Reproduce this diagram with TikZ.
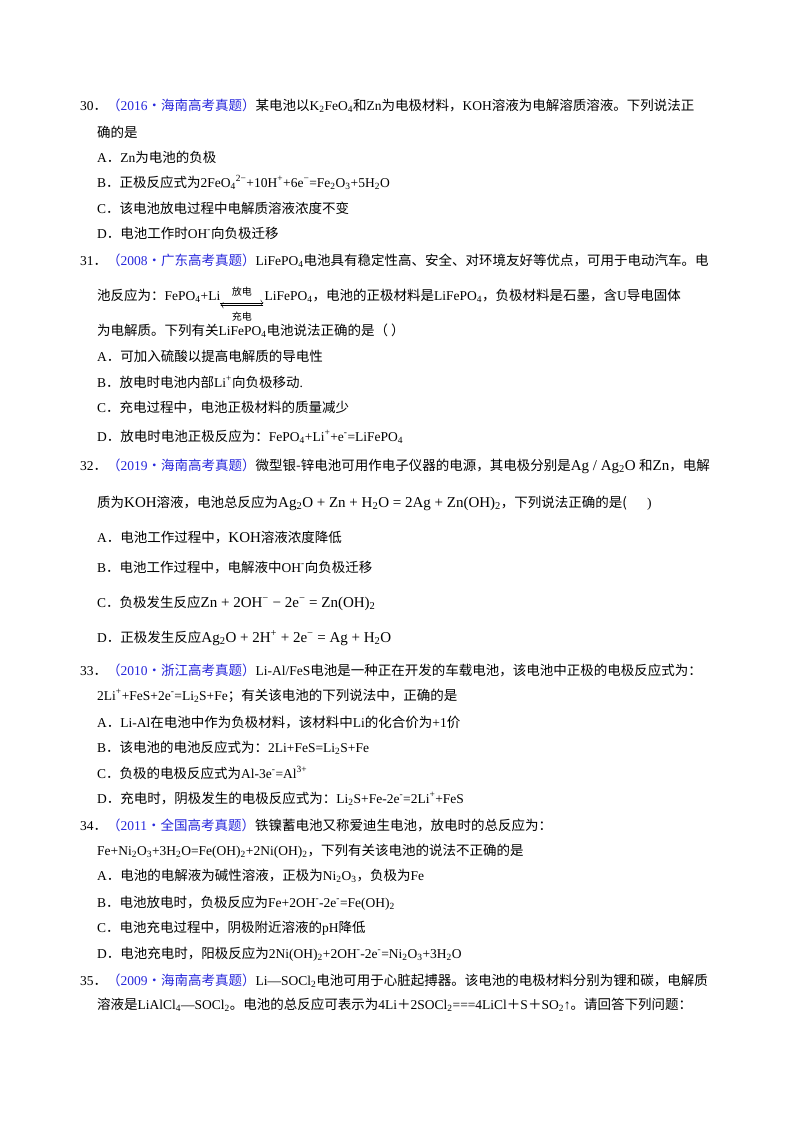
\documentclass[tikz,border=0pt]{standalone}
\usepackage{fontspec}
\usetikzlibrary{arrows.meta,calc}
\setmainfont{Liberation Serif}
\newfontfamily\cjk{Noto Sans CJK SC}
\newcommand\C[1]{{\cjk #1}}
\newcommand\Sb[1]{\textsubscript{#1}}
\newcommand\Sp[1]{\textsuperscript{#1}}
\definecolor{src}{RGB}{40,40,220}
\tikzset{t/.style={inner sep=0pt,anchor=base west,font=\fontsize{13.5}{13.5}\selectfont},
  lab/.style={inner sep=0pt,font=\fontsize{10}{10}\selectfont\cjk}}
\begin{document}
\begin{tikzpicture}[x=1pt,y=-1pt]
\useasboundingbox (0,0) rectangle (800,1132);
\fill[white] (0,0) rectangle (800,1132);
% 30
\node[t] (n30) at (80,110) {30\C{．}\textcolor{src}{\C{（}2016\C{·海南高考真题）}}\C{某电池以}K\Sb{2}FeO\Sb{4}\C{和}Zn\C{为电极材料，}KOH\C{溶液为电解溶质溶液。下列说法正}};
\node[t] (l30b) at (97,137) {\C{确的是}};
\node[t] (a30) at (97,162) {A\C{．}Zn\C{为电池的负极}};
\node[t] (b30) at (97,187) {B\C{．正极反应式为}2FeO\Sb{4}\Sp{2−}+10H\Sp{+}+6e\Sp{−}=Fe\Sb{2}O\Sb{3}+5H\Sb{2}O};
\node[t] (c30) at (97,213) {C\C{．该电池放电过程中电解质溶液浓度不变}};
\node[t] (d30) at (97,238) {D\C{．电池工作时}OH\Sp{-}\C{向负极迁移}};
% 31
\node[t] (n31) at (80,265) {31\C{．}\textcolor{src}{\C{（}2008\C{·广东高考真题）}}LiFePO\Sb{4}\C{电池具有稳定性高、安全、对环境友好等优点，可用于电动汽车。电}};
\node[t] (l31b) at (97,300) {\C{池反应为：}FePO\Sb{4}+Li};
\coordinate (p1) at ([yshift=-4pt]l31b.base east);
\coordinate (p2) at ([xshift=43pt]p1);
\draw[-{To[length=3pt]}] ([yshift=1.2pt]p1) -- ([yshift=1.2pt]p2);
\draw[-{To[length=3pt]}] ([yshift=-1.2pt]p2) -- ([yshift=-1.2pt]p1);
\node[lab,anchor=south] (fd) at ([yshift=7pt]$(p1)!0.5!(p2)$) {放电};
\node[lab,anchor=north] (cd) at ([yshift=-8pt]$(p1)!0.5!(p2)$) {充电};
\node[t] (l31c) at ([xshift=1pt]p2 |- l31b.base) {LiFePO\Sb{4}\C{，电池的正极材料是}LiFePO\Sb{4}\C{，负极材料是石墨，含}U\C{导电固体}};
\node[t] (l31d) at (97,335) {\C{为电解质。下列有关}LiFePO\Sb{4}\C{电池说法正确的是（ ）}};
\node[t] (a31) at (97,361) {A\C{．可加入硫酸以提高电解质的导电性}};
\node[t] (b31) at (97,387) {B\C{．放电时电池内部}Li\Sp{+}\C{向负极移动}.};
\node[t] (c31) at (97,412) {C\C{．充电过程中，电池正极材料的质量减少}};
\node[t] (d31) at (97,441) {D\C{．放电时电池正极反应为：}FePO\Sb{4}+Li\Sp{+}+e\Sp{-}=LiFePO\Sb{4}};
% 32
\node[t] (n32) at (80,470) {32\C{．}\textcolor{src}{\C{（}2019\C{·海南高考真题）}}\C{微型银-锌电池可用作电子仪器的电源，其电极分别是}{\fontsize{15}{15}\selectfont Ag / Ag\Sb{2}O} \C{和}{\fontsize{15}{15}\selectfont Zn}\C{，电解}};
\node[t,font=\fontsize{13.5}{13.5}\selectfont] (l32b) at (97,507) {\C{质为}{\fontsize{15}{15}\selectfont KOH}\C{溶液，电池总反应为}{\fontsize{15}{15}\selectfont Ag\Sb{2}O + Zn + H\Sb{2}O = 2Ag + Zn(OH)\Sb{2}}\C{，下列说法正确的是(}\quad\ \ )};
\node[t] (a32) at (97,542) {A\C{．电池工作过程中，}{\fontsize{15}{15}\selectfont KOH}\C{溶液浓度降低}};
\node[t] (b32) at (97,572) {B\C{．电池工作过程中，电解液中}OH\Sp{-}\C{向负极迁移}};
\node[t] (c32) at (97,607) {C\C{．负极发生反应}{\fontsize{15}{15}\selectfont Zn + 2OH\Sp{−} − 2e\Sp{−} = Zn(OH)\Sb{2}}};
\node[t] (d32) at (97,642) {D\C{．正极发生反应}{\fontsize{15}{15}\selectfont Ag\Sb{2}O + 2H\Sp{+} + 2e\Sp{−} = Ag + H\Sb{2}O}};
% 33
\node[t] (n33) at (80,675) {33\C{．}\textcolor{src}{\C{（}2010\C{·浙江高考真题）}}Li-Al/FeS\C{电池是一种正在开发的车载电池，该电池中正极的电极反应式为：}};
\node[t] (l33b) at (97,700) {2Li\Sp{+}+FeS+2e\Sp{-}=Li\Sb{2}S+Fe\C{；有关该电池的下列说法中，正确的是}};
\node[t] (a33) at (97,727) {A\C{．}Li-Al\C{在电池中作为负极材料，该材料中}Li\C{的化合价为}+1\C{价}};
\node[t] (b33) at (97,752) {B\C{．该电池的电池反应式为：}2Li+FeS=Li\Sb{2}S+Fe};
\node[t] (c33) at (97,778) {C\C{．负极的电极反应式为}Al-3e\Sp{-}=Al\Sp{3+}};
\node[t] (d33) at (97,803) {D\C{．充电时，阴极发生的电极反应式为：}Li\Sb{2}S+Fe-2e\Sp{-}=2Li\Sp{+}+FeS};
% 34
\node[t] (n34) at (80,830) {34\C{．}\textcolor{src}{\C{（}2011\C{·全国高考真题）}}\C{铁镍蓄电池又称爱迪生电池，放电时的总反应为：}};
\node[t] (l34b) at (97,855) {Fe+Ni\Sb{2}O\Sb{3}+3H\Sb{2}O=Fe(OH)\Sb{2}+2Ni(OH)\Sb{2}\C{，下列有关该电池的说法不正确的是}};
\node[t] (a34) at (97,880) {A\C{．电池的电解液为碱性溶液，正极为}Ni\Sb{2}O\Sb{3}\C{，负极为}Fe};
\node[t] (b34) at (97,907) {B\C{．电池放电时，负极反应为}Fe+2OH\Sp{-}-2e\Sp{-}=Fe(OH)\Sb{2}};
\node[t] (c34) at (97,932) {C\C{．电池充电过程中，阴极附近溶液的}pH\C{降低}};
\node[t] (d34) at (97,958) {D\C{．电池充电时，阳极反应为}2Ni(OH)\Sb{2}+2OH\Sp{-}-2e\Sp{-}=Ni\Sb{2}O\Sb{3}+3H\Sb{2}O};
% 35
\node[t] (n35) at (80,985) {35\C{．}\textcolor{src}{\C{（}2009\C{·海南高考真题）}}Li—SOCl\Sb{2}\C{电池可用于心脏起搏器。该电池的电极材料分别为锂和碳，电解质}};
\node[t] (l35b) at (97,1009) {\C{溶液是}LiAlCl\Sb{4}—SOCl\Sb{2}\C{。电池的总反应可表示为}4Li\C{＋}2SOCl\Sb{2}===4LiCl\C{＋}S\C{＋}SO\Sb{2}↑\C{。请回答下列问题：}};
\end{tikzpicture}
\end{document}
